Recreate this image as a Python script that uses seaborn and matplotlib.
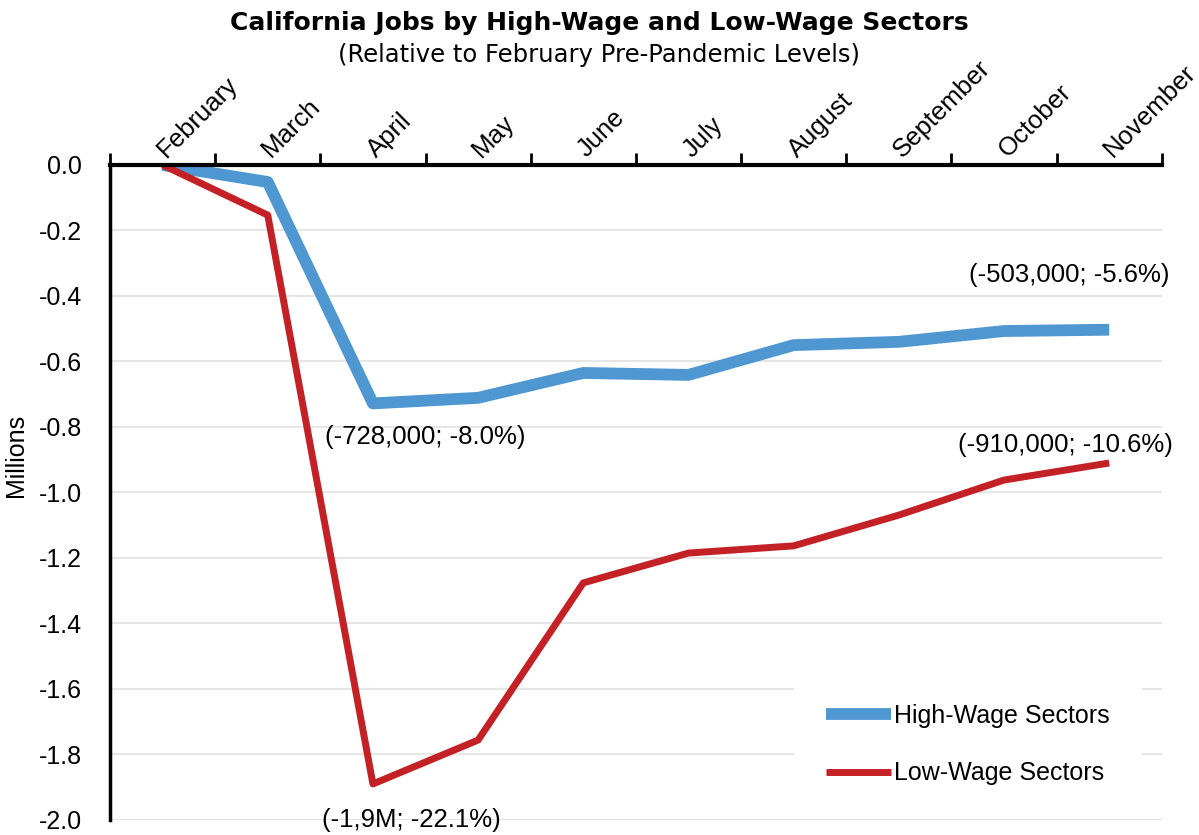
import numpy as np
import pandas as pd
import matplotlib.pyplot as plt
import matplotlib.transforms as mtransforms
import seaborn as sns
from matplotlib.ticker import FixedLocator

# Data (millions of jobs, relative to February)
months = ["February", "March", "April", "May", "June", "July",
          "August", "September", "October", "November"]
high_wage = [0.0, -0.052, -0.728, -0.711, -0.635, -0.641, -0.550, -0.540, -0.507, -0.503]
low_wage = [0.0, -0.153, -1.890, -1.756, -1.276, -1.185, -1.163, -1.069, -0.962, -0.910]

labels = ["(-728,000; -8.0%)", "(-503,000; -5.6%)", "(-910,000; -10.6%)", "(-1,9M; -22.1%)"]
yticks = [-2.0, -1.8, -1.6, -1.4, -1.2, -1.0, -0.8, -0.6, -0.4, -0.2, 0.0]
ytick_labels = ["-2.0", "-1.8", "-1.6", "-1.4", "-1.2", "-1.0",
                "-0.8", "-0.6", "-0.4", "-0.2", "0.0"]

sns.set_style("white")
plt.rcParams["font.family"] = ["Liberation Sans", "DejaVu Sans"]
plt.rcParams["text.color"] = "black"
plt.rcParams["xtick.color"] = "black"
plt.rcParams["ytick.color"] = "black"
plt.rcParams["axes.labelcolor"] = "black"

blue = "#4F97D1"
red = "#C42127"

fig = plt.figure(figsize=(11.99, 8.35), dpi=100)
ax = fig.add_axes([0.0917, 0.018, 0.8773, 0.7844])

x = np.arange(len(months))
sns.lineplot(x=x, y=high_wage, ax=ax, color=blue, linewidth=8.5,
             label="High-Wage Sectors", solid_capstyle="butt")
sns.lineplot(x=x, y=low_wage, ax=ax, color=red, linewidth=5,
             label="Low-Wage Sectors", solid_capstyle="butt")

ax.set_xlim(-0.5, len(months) - 0.5)
ax.set_ylim(-2.0, 0.0)

# y axis
ax.set_yticks(yticks)
ax.set_yticklabels(ytick_labels, fontsize=18)
ax.tick_params(axis="y", length=0, pad=20)
ax.grid(axis="y", color="#E6E6E6", linewidth=1.5)
ax.set_axisbelow(True)
ax.set_ylabel("Millions", fontsize=18)
ax.yaxis.set_label_coords(-0.078, 0.557)

# x axis on top with month labels
ax.xaxis.tick_top()
ax.set_xticks(x)
ax.set_xticklabels(months, fontsize=18.5, rotation=45, ha="left",
                   va="bottom", rotation_mode="anchor")
ax.tick_params(axis="x", which="major", length=0, pad=-2)
shift = mtransforms.ScaledTranslation(0.07, 0.06, fig.dpi_scale_trans)
for lab in ax.get_xticklabels():
    lab.set_transform(lab.get_transform() + shift)
ax.xaxis.set_minor_locator(FixedLocator(np.arange(-0.5, len(months), 1.0)))
ax.tick_params(axis="x", which="minor", top=True, bottom=False,
               length=9, width=2, direction="out", color="black")

for side in ["right", "bottom"]:
    ax.spines[side].set_visible(False)
ax.spines["top"].set_linewidth(3)
ax.spines["top"].set_color("black")
ax.spines["left"].set_linewidth(2.5)
ax.spines["left"].set_color("black")

# annotations
ax.text(2.5, -0.83, labels[0], fontsize=18.5, ha="center", va="center")
ax.text(8.62, -0.336, labels[1], fontsize=18.5, ha="center", va="center")
ax.text(8.58, -0.855, labels[2], fontsize=18.5, ha="center", va="center")
ax.text(2.37, -2.0, labels[3], fontsize=18.5, ha="center", va="center", clip_on=False)

# legend
leg = ax.legend(loc="lower right", bbox_to_anchor=(0.993, -0.016), fontsize=18,
                frameon=True, facecolor="white", edgecolor="white", framealpha=1,
                handlelength=2.6, handletextpad=0.1, labelspacing=1.35,
                borderpad=1.3)
leg.get_frame().set_linewidth(0)
for t in leg.get_texts():
    t.set_color("black")

# titles
fig.text(0.5, 0.973, "California Jobs by High-Wage and Low-Wage Sectors",
         ha="center", va="center", fontsize=18, fontweight="bold",
         family=["DejaVu Sans"])
fig.text(0.5, 0.934, "(Relative to February Pre-Pandemic Levels)",
         ha="center", va="center", fontsize=17.5, family=["DejaVu Sans"])

fig.savefig("out.png", dpi=100)
